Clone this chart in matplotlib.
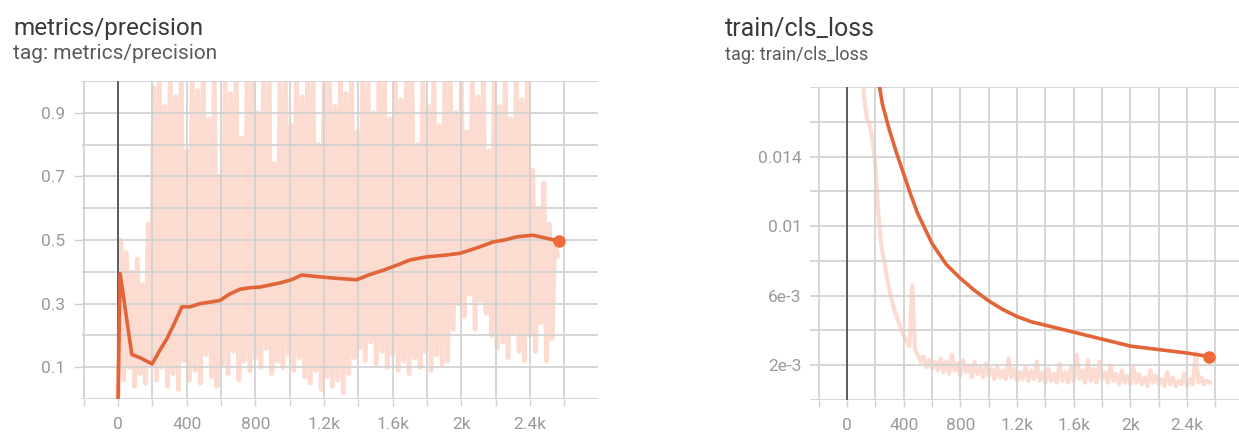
import numpy as np
import matplotlib
matplotlib.use("Agg")
import matplotlib.pyplot as plt

plt.rcParams["font.family"] = ["Roboto", "DejaVu Sans"]

# ---- metrics/precision -------------------------------------------------
prec_steps = [0, 12, 40, 80, 128, 198, 240, 285, 330, 372, 420, 478, 540,
              594, 650, 710, 770, 827, 943, 1010, 1070, 1158, 1260, 1390,
              1460, 1545, 1620, 1700, 1797, 1900, 1990, 2090, 2185, 2250,
              2323, 2418, 2500, 2568]
prec_smooth = [0.0, 0.395, 0.29, 0.14, 0.13, 0.11, 0.15, 0.19, 0.24, 0.29,
               0.29, 0.30, 0.305, 0.31, 0.33, 0.345, 0.35, 0.352, 0.365,
               0.375, 0.39, 0.385, 0.38, 0.375, 0.39, 0.405, 0.42, 0.437,
               0.447, 0.452, 0.458, 0.475, 0.494, 0.50, 0.51, 0.515, 0.505,
               0.497]

prec_raw_steps = np.arange(0, 2561, 16)
prec_raw = [
    0.00, 0.50, 0.06, 0.46, 0.10, 0.40, 0.04, 0.44, 0.08, 0.36,
    0.05, 0.55, 0.12, 0.98, 0.06, 1.00, 0.10, 0.92, 0.04, 1.00,
    0.08, 0.95, 0.03, 1.00, 0.12, 0.78, 0.06, 1.00, 0.09, 0.97,
    0.05, 1.00, 0.14, 0.88, 0.07, 1.00, 0.04, 0.70, 0.11, 1.00,
    0.08, 0.96, 0.15, 1.00, 0.06, 0.82, 0.12, 1.00, 0.09, 1.00,
    0.13, 0.90, 0.10, 1.00, 0.16, 1.00, 0.08, 0.74, 0.12, 1.00,
    0.10, 1.00, 0.14, 0.86, 0.09, 1.00, 0.13, 0.95, 0.07, 1.00,
    0.05, 1.00, 0.09, 0.80, 0.03, 1.00, 0.07, 1.00, 0.04, 0.92,
    0.06, 1.00, 0.02, 0.96, 0.08, 1.00, 0.13, 0.84, 0.16, 1.00,
    0.12, 1.00, 0.18, 0.90, 0.11, 1.00, 0.15, 1.00, 0.10, 0.88,
    0.14, 1.00, 0.09, 0.94, 0.12, 1.00, 0.08, 1.00, 0.13, 0.80,
    0.10, 1.00, 0.15, 0.92, 0.09, 1.00, 0.14, 0.86, 0.11, 1.00,
    0.12, 1.00, 0.22, 0.90, 0.30, 1.00, 0.26, 0.84, 0.33, 1.00,
    0.22, 0.95, 0.31, 1.00, 0.27, 0.78, 0.20, 1.00, 0.16, 0.92,
    0.18, 1.00, 0.13, 0.88, 0.21, 1.00, 0.15, 0.94, 0.12, 1.00,
    0.20, 0.72, 0.15, 0.60, 0.24, 0.68, 0.12, 0.55, 0.19, 0.50,
    0.45,
]

# ---- train/cls_loss ----------------------------------------------------
loss_steps = [0, 100, 200, 250, 300, 350, 400, 450, 500, 600, 700, 800, 900,
              1000, 1100, 1200, 1300, 1400, 1600, 1800, 2000, 2200, 2400, 2555]
loss_smooth = [0.032, 0.025, 0.0195, 0.017, 0.0155, 0.0142, 0.0130, 0.0118,
               0.0107, 0.0090, 0.0078, 0.0070, 0.0063, 0.0057, 0.0052,
               0.0048, 0.0045, 0.0043, 0.0039, 0.0035, 0.0031, 0.0029,
               0.0027, 0.0025]

loss_raw_steps = np.arange(0, 2561, 20)
loss_raw = [
    0.060, 0.052, 0.045, 0.038, 0.030, 0.021, 0.0175, 0.0162, 0.0158, 0.0150,
    0.0135, 0.0108, 0.0090, 0.0081, 0.0071, 0.0063, 0.0056, 0.0050, 0.0046, 0.0041,
    0.0037, 0.0034, 0.0031, 0.0066, 0.0029, 0.0026, 0.0022, 0.0025, 0.0019, 0.0023,
    0.0018, 0.0022,
    0.0017, 0.0024, 0.0016, 0.0022, 0.0015, 0.0026, 0.0017, 0.0021, 0.0014, 0.0023,
    0.0016, 0.0020, 0.0013, 0.0022, 0.0015, 0.0019, 0.0013, 0.0021, 0.0014, 0.0018,
    0.0012, 0.0019, 0.0013, 0.0017, 0.0012, 0.0024, 0.0013, 0.0018, 0.0011, 0.0016,
    0.0012, 0.0019, 0.0011, 0.0017, 0.0012, 0.0022, 0.0011, 0.0016, 0.0010, 0.0018,
    0.0011, 0.0015, 0.0010, 0.0021, 0.0011, 0.0016, 0.0010, 0.0019, 0.0011, 0.0026,
    0.0012, 0.0017, 0.0010, 0.0023, 0.0011, 0.0018, 0.0010, 0.0022, 0.0012, 0.0016,
    0.0010, 0.0020, 0.0011, 0.0015, 0.0009, 0.0017, 0.0010, 0.0014, 0.0009, 0.0019,
    0.0010, 0.0015, 0.0009, 0.0013, 0.0008, 0.0017, 0.0010, 0.0014, 0.0009, 0.0012,
    0.0008, 0.0016, 0.0009, 0.0013, 0.0008, 0.0011, 0.0009, 0.0015, 0.0008, 0.0012,
    0.0009, 0.0027, 0.0010, 0.0013, 0.0009, 0.0011, 0.0010,
]

x_tick_labels = ["0", "400", "800", "1.2k", "1.6k", "2k", "2.4k"]
prec_tick_vals = [0.1, 0.3, 0.5, 0.7, 0.9]
prec_tick_labels = ["0.1", "0.3", "0.5", "0.7", "0.9"]
loss_tick_vals = [0.002, 0.006, 0.010, 0.014]
loss_tick_labels = ["2e-3", "6e-3", "0.01", "0.014"]

SMOOTH = "#e2653a"
DOT = "#ef6a3a"
RAW = "#fcdcd0"
GRID = "#d0d0d0"
TICK = "#9a9a9a"

W, H = 1239, 446
fig = plt.figure(figsize=(W / 100, H / 100), dpi=100)
fig.patch.set_facecolor("white")


def style_axes(ax, xlim, ylim, ygrid, yticks, ylabels, ytick_len):
    ax.set_xlim(*xlim)
    ax.set_ylim(*ylim)
    for s in ax.spines.values():
        s.set_visible(False)
    xgrid = np.arange(-200, 2601, 200)
    for gx in xgrid:
        ax.axvline(gx, color=GRID, lw=1.2, zorder=2)
    for gy in ygrid:
        ax.axhline(gy, color=GRID, lw=1.2, zorder=2)
    ax.axvline(0, color="#5c5c5c", lw=1.4, zorder=2.5)
    ax.set_xticks(xgrid)
    labels = []
    for gx in xgrid:
        if gx >= 0 and gx % 400 == 0:
            labels.append(x_tick_labels[gx // 400])
        else:
            labels.append("")
    ax.set_xticklabels(labels)
    ax.set_yticks(yticks)
    ax.set_yticklabels(ylabels)
    ax.tick_params(axis="x", length=5, width=1, color=GRID, pad=8,
                   labelsize=12.5, labelcolor=TICK)
    ax.tick_params(axis="y", length=ytick_len, width=1, color=GRID, pad=6,
                   labelsize=12.5, labelcolor=TICK)


# Left panel: precision
ax1 = fig.add_axes([82 / W, 1 - 399 / H, 516 / W, 318 / H])
style_axes(ax1, (-210, 2796), (0, 1.0), np.arange(0, 1.01, 0.1),
           prec_tick_vals, prec_tick_labels, 6)
ax1.plot(prec_raw_steps, prec_raw, color=RAW, lw=3.6, zorder=1)
ax1.plot(prec_steps, prec_smooth, color=SMOOTH, lw=2.6, zorder=3,
         solid_joinstyle="round")
ax1.plot(prec_steps[-1], prec_smooth[-1], "o", color=DOT, ms=8, zorder=4)

# Right panel: classification loss
ax2 = fig.add_axes([810 / W, 1 - 400 / H, 429 / W, 313 / H])
style_axes(ax2, (-261, 2766), (0, 0.018), np.arange(0, 0.01801, 0.002),
           loss_tick_vals, loss_tick_labels, 0)
ax2.plot(loss_raw_steps, loss_raw, color=RAW, lw=3.0, zorder=1)
ax2.plot(loss_steps, loss_smooth, color=SMOOTH, lw=2.6, zorder=3,
         solid_joinstyle="round")
ax2.plot(loss_steps[-1], loss_smooth[-1], "o", color=DOT, ms=8, zorder=4)

# Panel headings
fig.text(13 / W, 1 - 35 / H, "metrics/precision", fontsize=17.5,
         color="#3a3a3a", ha="left", va="baseline")
fig.text(13 / W, 1 - 59 / H, "tag: metrics/precision", fontsize=15,
         color="#5a5a5a", ha="left", va="baseline")
fig.text(725 / W, 1 - 36 / H, "train/cls_loss", fontsize=18,
         color="#3a3a3a", ha="left", va="baseline")
fig.text(725 / W, 1 - 60 / H, "tag: train/cls_loss", fontsize=13,
         color="#5a5a5a", ha="left", va="baseline")

fig.savefig("out.png", dpi=100, facecolor="white")
